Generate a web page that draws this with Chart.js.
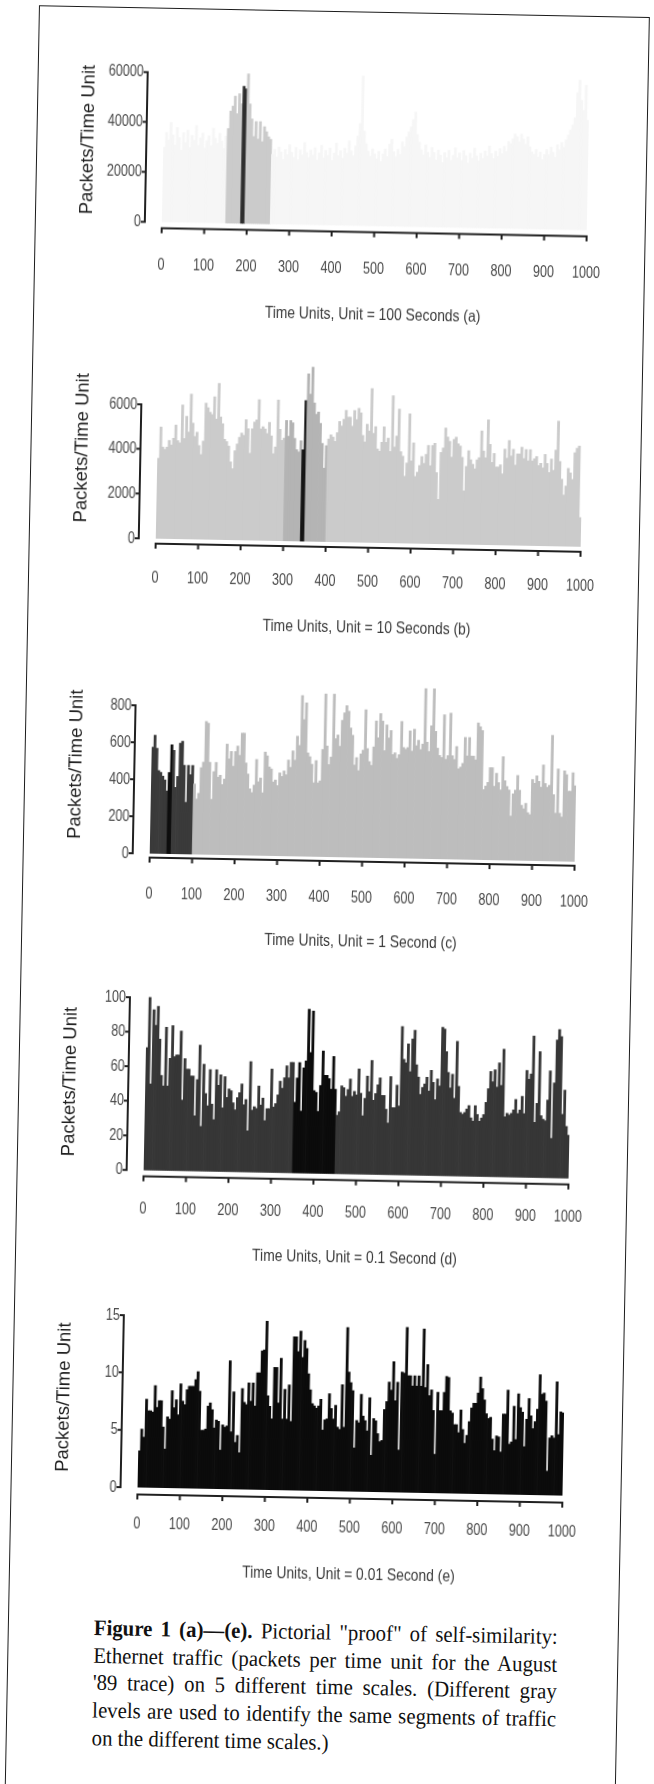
<!DOCTYPE html>
<html>
<head>
<meta charset="utf-8">
<script src="https://cdn.jsdelivr.net/npm/chart.js@4.4.1/dist/chart.umd.min.js"></script>
<style>
html, body { margin: 0; padding: 0; background: #fff; }
body { width: 654px; height: 1784px; overflow: hidden; position: relative; }
#page { position: absolute; left: 0; top: 0; width: 654px; height: 1784px; transform: rotate(1.1deg); transform-origin: 327px 892px; }
#frame { position: absolute; left: 22px; top: 11px; width: 609px; height: 1830px; border: 1.5px solid #1c1c1c; }
canvas { position: absolute; left: 0; }
#caption { position: absolute; left: 108px; top: 1618px; width: 464px; font-family: 'Liberation Serif', 'Times New Roman', serif; font-size: 20.8px; line-height: 25.7px; color: #111; transform: scaleY(1.07); transform-origin: 0 0; }
#caption div { text-align: justify; text-align-last: justify; white-space: nowrap; }
#caption div.last { text-align-last: left; }
</style>
</head>
<body>
<div id="page">
  <div id="frame"></div>
  <div id="caption">
    <div><b>Figure 1 (a)—(e).</b> Pictorial "proof" of self-similarity:</div>
    <div>Ethernet traffic (packets per time unit for the August</div>
    <div>'89 trace) on 5 different time scales. (Different gray</div>
    <div>levels are used to identify the same segments of traffic</div>
    <div class="last">on the different time scales.)</div>
  </div>
</div>
<script>
// 200 bins of 5 time units on every scale
const BIN = 5;
const binStarts = Array.from({length: 200}, (_, i) => i * BIN);
const xTicks = [0, 100, 200, 300, 400, 500, 600, 700, 800, 900, 1000];
const yLabel = 'Packets/Time Unit';

// (a) unit = 100 s
const packetsA = [
  30000, 36000, 33000, 40000, 35000, 31000, 38000, 34000, 29000, 36000,
  32000, 37000, 30000, 35000, 33000, 39000, 31000, 34000, 36000, 30000,
  33000, 35000, 31000, 38000, 34000, 32000, 36000, 33000, 30000, 35000,
  38000, 45000, 47000, 51000, 44000, 52000, 48000, 55000, 54000, 60000,
  48000, 42000, 35000, 41000, 34000, 41000, 33000, 39000, 37000, 35000,
  34000, 28000, 30000, 27000, 31000, 29000, 26000, 30000, 28000, 32000,
  29000, 27000, 31000, 26000, 30000, 28000, 33000, 29000, 27000, 30000,
  28000, 31000, 26000, 29000, 32000, 27000, 30000, 28000, 31000, 26000,
  29000, 33000, 28000, 30000, 27000, 31000, 29000, 34000, 30000, 28000,
  32000, 36000, 41000, 60000, 38000, 33000, 30000, 28000, 31000, 29000,
  27000, 30000, 26000, 29000, 31000, 28000, 33000, 35000, 30000, 28000,
  31000, 29000, 34000, 32000, 36000, 38000, 40000, 43000, 46000, 37000,
  34000, 31000, 29000, 33000, 30000, 28000, 32000, 30000, 27000, 31000,
  29000, 26000, 30000, 28000, 31000, 27000, 29000, 32000, 28000, 30000,
  27000, 31000, 29000, 26000, 30000, 28000, 32000, 29000, 27000, 30000,
  28000, 31000, 29000, 33000, 30000, 28000, 31000, 29000, 32000, 30000,
  33000, 31000, 35000, 34000, 36000, 38000, 37000, 35000, 38000, 36000,
  34000, 37000, 33000, 31000, 30000, 32000, 29000, 31000, 28000, 30000,
  32000, 30000, 33000, 31000, 29000, 34000, 32000, 35000, 33000, 36000,
  38000, 40000, 42000, 45000, 55000, 60000, 52000, 48000, 58000, 44000
];
const yTicksA = [0, 20000, 40000, 60000];
const shadeA = [[150, 255, 1], [185, 195, 2]];

// (b) unit = 10 s
const packetsB = [
  3600, 5000, 4100, 4000, 4100, 4400, 4200, 4500, 5100, 4400,
  4300, 6000, 4500, 5500, 4800, 6500, 5200, 4600, 4800, 4200,
  3800, 4400, 6100, 5900, 5700, 5600, 6400, 5400, 7000, 5500,
  5200, 4500, 4400, 4200, 3500, 3200, 4000, 4300, 4600, 4800,
  4700, 5400, 5000, 3900, 5000, 5300, 5400, 6300, 5000, 5100,
  5000, 4800, 5300, 4700, 3900, 4200, 6300, 5000, 4500, 4600,
  5400, 4700, 5400, 5300, 4600, 4100, 4000, 4500, 4100, 6300,
  7500, 6600, 7800, 6200, 5700, 5800, 5300, 4400, 3300, 4300,
  4600, 4800, 4700, 4500, 4900, 5400, 5200, 5500, 5900, 5600,
  5600, 5200, 5900, 5500, 6000, 5800, 4800, 4500, 5300, 5000,
  6900, 4900, 5200, 4200, 4100, 4500, 5200, 4500, 4700, 4100,
  6600, 4300, 4800, 6000, 4100, 3900, 3000, 3600, 5800, 3700,
  4500, 3000, 3200, 3500, 3900, 3600, 4000, 4400, 3500, 4400,
  4500, 3200, 2000, 4100, 4300, 5200, 4800, 4600, 3900, 4700,
  4800, 4500, 4400, 3900, 2400, 3500, 4200, 3800, 3600, 3400,
  3800, 3900, 5100, 4200, 3900, 5600, 4500, 3700, 4100, 3500,
  3500, 3600, 3200, 4300, 3900, 4700, 4000, 4300, 3600, 4100,
  4100, 4400, 3900, 4300, 3800, 4300, 3800, 3900, 4000, 3600,
  3700, 3500, 4100, 3700, 3300, 3900, 3400, 4300, 5600, 3800,
  3000, 2300, 2700, 3500, 3300, 3000, 4200, 4400, 4500, 1300
];
const yTicksB = [0, 2000, 4000, 6000];
const shadeB = [[300, 400, 1], [340, 350, 2]];

// (c) unit = 1 s
const packetsC = [
  575, 640, 570, 450, 440, 420, 400, 340, 440, 590,
  560, 360, 420, 600, 610, 480, 280, 480, 430, 480,
  380, 300, 330, 470, 500, 720, 710, 500, 300, 450,
  500, 420, 430, 380, 410, 600, 520, 560, 480, 560,
  590, 540, 660, 660, 500, 440, 360, 340, 380, 520,
  400, 420, 340, 560, 540, 480, 470, 400, 410, 380,
  450, 430, 460, 440, 520, 480, 570, 520, 650, 600,
  870, 740, 830, 560, 540, 500, 400, 520, 400, 410,
  580, 880, 600, 500, 540, 880, 640, 660, 600, 740,
  780, 820, 790, 700, 660, 500, 540, 470, 560, 580,
  800, 590, 520, 500, 600, 740, 650, 780, 740, 580,
  720, 650, 690, 560, 570, 540, 560, 740, 600, 590,
  600, 690, 580, 700, 610, 640, 590, 620, 920, 630,
  580, 720, 920, 690, 600, 560, 550, 780, 540, 560,
  790, 560, 540, 610, 490, 500, 520, 660, 560, 660,
  560, 560, 540, 740, 720, 700, 380, 400, 420, 500,
  500, 400, 470, 420, 380, 560, 430, 400, 380, 240,
  360, 380, 460, 380, 300, 280, 310, 260, 250, 440,
  420, 460, 430, 400, 520, 420, 400, 410, 680, 360,
  260, 500, 260, 240, 490, 470, 380, 380, 480, 410
];
const yTicksC = [0, 200, 400, 600, 800];
const shadeC = [[0, 100, 1], [40, 50, 2]];

// (d) unit = 0.1 s
const packetsD = [
  71, 100, 50, 93, 84, 95, 76, 55, 49, 83,
  49, 65, 84, 66, 67, 67, 81, 41, 65, 59,
  59, 55, 55, 32, 53, 73, 26, 62, 45, 38,
  59, 39, 30, 59, 50, 56, 37, 55, 43, 48,
  47, 40, 36, 43, 46, 51, 39, 42, 24, 64,
  36, 38, 37, 50, 39, 43, 30, 37, 37, 60,
  38, 40, 45, 53, 49, 55, 62, 55, 64, 64,
  41, 55, 64, 36, 61, 65, 95, 70, 94, 48,
  47, 36, 51, 71, 57, 57, 55, 49, 68, 49,
  34, 36, 51, 50, 45, 49, 55, 45, 48, 46,
  61, 47, 34, 44, 57, 48, 66, 43, 47, 52,
  56, 46, 46, 38, 30, 57, 39, 39, 52, 40,
  86, 67, 65, 76, 60, 79, 84, 64, 57, 47,
  51, 53, 57, 49, 61, 54, 44, 56, 52, 86,
  85, 72, 60, 51, 59, 45, 78, 52, 37, 36,
  37, 39, 41, 34, 32, 41, 36, 32, 34, 36,
  43, 51, 61, 55, 62, 52, 66, 53, 74, 35,
  37, 36, 37, 39, 45, 37, 39, 47, 37, 62,
  57, 60, 82, 32, 43, 73, 36, 34, 33, 45,
  62, 23, 55, 80, 86, 82, 37, 51, 30, 25
];
const yTicksD = [0, 20, 40, 60, 80, 100];
const shadeD = [[350, 450, 1]];

// (e) unit = 0.01 s
const packetsE = [
  3.2, 5.1, 4.4, 7.7, 6.7, 6.7, 6.6, 8.9, 7.0, 7.6,
  7.6, 5.3, 3.4, 6.2, 6.0, 8.5, 7.0, 7.7, 6.4, 9.1,
  7.6, 7.3, 8.6, 8.9, 8.9, 8.9, 9.5, 10.2, 8.5, 5.1,
  5.1, 5.2, 7.2, 7.5, 6.9, 5.3, 6.0, 5.9, 3.4, 5.6,
  5.4, 5.5, 11.2, 5.0, 8.5, 4.1, 4.7, 3.2, 8.8, 7.6,
  7.4, 9.3, 7.7, 9.3, 7.3, 10.2, 10.2, 12.1, 12.2, 14.7,
  8.2, 7.3, 6.2, 10.7, 10.7, 7.6, 11.5, 6.2, 8.8, 6.2,
  9.2, 6.0, 13.4, 13.4, 12.1, 13.9, 11.6, 13.1, 12.4, 10.2,
  8.8, 7.6, 7.4, 7.2, 7.4, 8.0, 5.3, 6.2, 6.3, 8.5,
  7.2, 6.3, 7.5, 5.6, 5.4, 9.3, 5.6, 14.3, 10.4, 9.5,
  8.8, 3.8, 6.2, 6.0, 8.5, 6.6, 6.2, 5.3, 8.2, 3.2,
  6.4, 6.2, 5.1, 4.4, 4.5, 7.2, 7.9, 9.6, 8.9, 11.4,
  8.0, 9.6, 3.7, 10.5, 10.4, 14.4, 10.2, 10.2, 9.3, 10.2,
  9.3, 10.2, 9.3, 14.3, 9.2, 11.2, 8.5, 9.0, 7.2, 3.4,
  8.8, 7.2, 7.2, 8.8, 10.2, 10.1, 7.2, 7.0, 6.0, 6.0,
  5.3, 7.3, 5.6, 4.4, 5.1, 6.3, 7.5, 7.9, 7.9, 8.8,
  10.2, 9.2, 8.2, 7.0, 6.6, 6.7, 4.8, 3.8, 5.1, 5.0,
  3.7, 7.0, 7.0, 9.1, 4.4, 4.6, 7.7, 4.8, 8.8, 7.6,
  7.2, 4.2, 6.6, 8.4, 6.9, 5.8, 6.4, 7.5, 10.5, 8.8,
  8.9, 8.2, 2.1, 5.0, 5.2, 5.0, 9.9, 5.3, 7.3, 7.2
];
const yTicksE = [0, 5, 10, 15];
const shadeE = [];

const SANS = "'Liberation Sans', Arial, sans-serif";
const TICK_SIZE = 17, TITLE_SIZE = 16.5, YTITLE_SIZE = 18.5;
// the scanned lettering is much narrower than any installed face
const SQUEEZE = {17: 0.74, 16.5: 0.84};
const PLOT_LEFT = 149, PLOT_RIGHT = 574;

function colorsFor(shade, palette) {
  return binStarts.map(x => {
    let c = palette[0];
    shade.forEach(([s, e, lvl]) => { if (x >= s && x < e) c = palette[lvl]; });
    return c;
  });
}

const condensedText = {
  id: 'condensedText',
  beforeDraw(chart) {
    const ctx = chart.ctx;
    if (ctx._squeezed) return;
    const fill = ctx.fillText;
    ctx.fillText = function (text, x, y, maxWidth) {
      const m = /([\d.]+)px/.exec(this.font);
      const k = m ? SQUEEZE[parseFloat(m[1])] : undefined;
      if (!k) return fill.call(this, text, x, y, maxWidth);
      this.save();
      this.translate(x, y);
      this.scale(k, 1);
      fill.call(this, text, 0, 0);
      this.restore();
    };
    ctx._squeezed = true;
  }
};

const detachedAxes = {
  id: 'detachedAxes',
  afterDraw(chart, args, opts) {
    const {ctx, chartArea, scales: {x, y}} = chart;
    const ax = chartArea.left - 17;
    const y0 = y.getPixelForValue(0);
    const ay = y0 + opts.gap;
    ctx.save();
    ctx.strokeStyle = '#202020';
    ctx.lineWidth = 2;
    ctx.beginPath();
    ctx.moveTo(ax, y0 + 1);
    ctx.lineTo(ax, y.getPixelForValue(opts.axisMax) - 1);
    opts.yTicks.forEach(v => {
      const py = y.getPixelForValue(v);
      ctx.moveTo(ax - 4, py);
      ctx.lineTo(ax, py);
    });
    ctx.moveTo(x.getPixelForValue(0) - 1, ay);
    ctx.lineTo(x.getPixelForValue(1000) + 1, ay);
    xTicks.forEach(v => {
      const px = x.getPixelForValue(v);
      ctx.moveTo(px, ay);
      ctx.lineTo(px, ay + 5);
    });
    ctx.stroke();
    ctx.restore();
  }
};

const panels = [
  {values: packetsA, shade: shadeA, palette: ['#f6f6f6', '#cbcbcb', '#2e2e2e'], yTicks: yTicksA, axisMax: 60000, yMax: 65000,
   zero: 225.4, px: 150 / 60000, gap: 6, tickY: 268.7, titleY: 314.4, title: 'Time Units, Unit = 100 Seconds (a)'},
  {values: packetsB, shade: shadeB, palette: ['#cbcbcb', '#b4b4b4', '#141414'], yTicks: yTicksB, axisMax: 6000, yMax: 8000,
   zero: 542, px: 135 / 6000, gap: 5, tickY: 581, titleY: 627.7, title: 'Time Units, Unit = 10 Seconds (b)'},
  {values: packetsC, shade: shadeC, palette: ['#bdbdbd', '#3a3a3a', '#0e0e0e'], yTicks: yTicksC, axisMax: 800, yMax: 950,
   zero: 857, px: 148.3 / 800, gap: 4, tickY: 897.7, titleY: 941, title: 'Time Units, Unit = 1 Second (c)'},
  {values: packetsD, shade: shadeD, palette: ['#363636', '#0b0b0b'], yTicks: yTicksD, axisMax: 100, yMax: 101,
   zero: 1173.7, px: 173.3 / 100, gap: 6, tickY: 1212.7, titleY: 1257, title: 'Time Units, Unit = 0.1 Second (d)'},
  {values: packetsE, shade: shadeE, palette: ['#0b0b0b'], yTicks: yTicksE, axisMax: 15, yMax: 15.5,
   zero: 1491, px: 172.3 / 15, gap: 7, tickY: 1527.7, titleY: 1574.4, title: 'Time Units, Unit = 0.01 Second (e)'}
];

const page = document.getElementById('page');
panels.forEach(p => {
  const top = p.zero - p.yMax * p.px;
  const T = Math.floor(top) - 30;
  const B = Math.ceil(p.titleY) + 20;
  const H = B - T;
  const cv = document.createElement('canvas');
  cv.width = 654;
  cv.height = H;
  cv.style.top = T + 'px';
  page.appendChild(cv);
  const zeroL = p.zero - T;

  new Chart(cv, {
    type: 'bar',
    data: {
      datasets: [{
        data: p.values.map((v, i) => ({x: binStarts[i] + BIN / 2, y: v})),
        backgroundColor: colorsFor(p.shade, p.palette),
        borderWidth: 0,
        barPercentage: 1,
        categoryPercentage: 1
      }]
    },
    options: {
      responsive: false,
      animation: false,
      events: [],
      layout: {padding: {top: top - T, right: 654 - PLOT_RIGHT, bottom: 0, left: 0}},
      plugins: {
        legend: {display: false},
        tooltip: {enabled: false},
        detachedAxes: {gap: p.gap, axisMax: p.axisMax, yTicks: p.yTicks}
      },
      scales: {
        x: {
          type: 'linear',
          min: 0,
          max: 1000,
          offset: false,
          grid: {display: false, drawTicks: false, offset: false},
          border: {display: false},
          afterBuildTicks: s => { s.ticks = xTicks.map(v => ({value: v})); },
          ticks: {
            padding: p.tickY - p.zero - TICK_SIZE * 0.6,
            maxRotation: 0,
            autoSkip: false,
            color: '#4a4a4a',
            font: {family: SANS, size: TICK_SIZE},
            callback: v => String(v)
          },
          title: {
            display: true,
            text: p.title,
            color: '#3a3a3a',
            font: {family: SANS, size: TITLE_SIZE},
            padding: {top: 0, bottom: B - p.titleY - TITLE_SIZE * 0.6}
          },
          afterFit: s => { s.height = H - zeroL; }
        },
        y: {
          min: 0,
          max: p.yMax,
          grid: {display: false, drawTicks: false},
          border: {display: false},
          afterBuildTicks: s => { s.ticks = p.yTicks.map(v => ({value: v})); },
          ticks: {
            padding: 21,
            color: '#4a4a4a',
            font: {family: SANS, size: TICK_SIZE},
            callback: v => String(v)
          },
          title: {
            display: true,
            text: yLabel,
            color: '#1e1e1e',
            font: {family: SANS, size: YTITLE_SIZE},
            padding: {top: 74 - YTITLE_SIZE * 0.6, bottom: 0}
          },
          afterFit: s => { s.width = PLOT_LEFT; }
        }
      }
    },
    plugins: [condensedText, detachedAxes]
  });
});
</script>
</body>
</html>
